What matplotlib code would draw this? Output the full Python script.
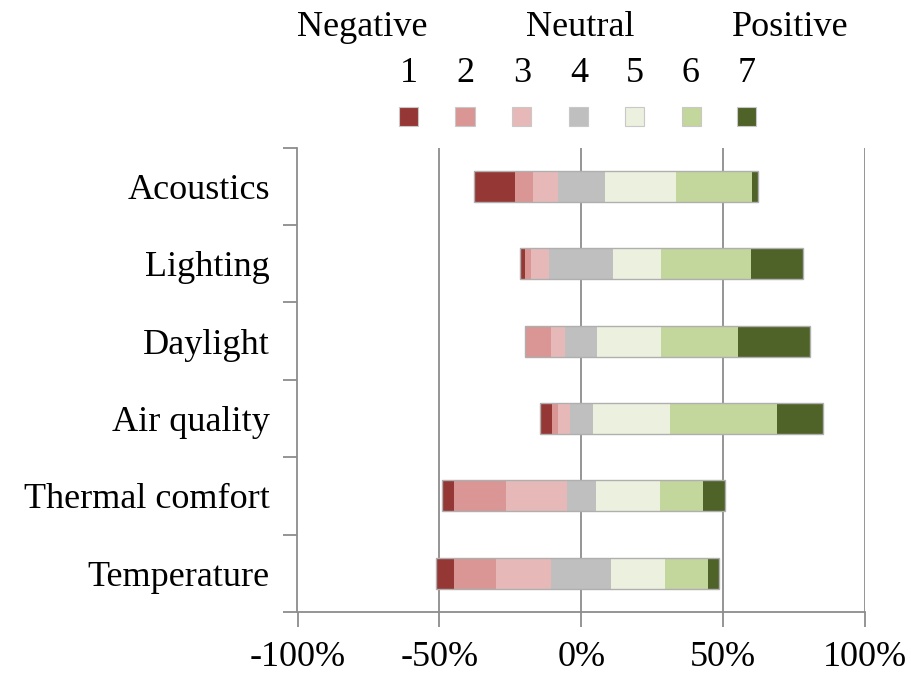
import matplotlib
matplotlib.use("Agg")
import matplotlib.pyplot as plt
from matplotlib.patches import Rectangle
import numpy as np

plt.rcParams['font.family'] = ['Liberation Serif', 'DejaVu Serif']

categories = ["Acoustics", "Lighting", "Daylight", "Air quality",
              "Thermal comfort", "Temperature"]
levels = ["1", "2", "3", "4", "5", "6", "7"]

# Share of responses (%) per rating level 1..7
r1 = [14.3, 1.8, 0.0, 4.1, 4.1, 6.3]
r2 = [6.4, 2.3, 9.0, 2.2, 18.4, 14.9]
r3 = [8.7, 6.3, 5.0, 4.1, 21.4, 19.5]
r4 = [16.5, 22.6, 11.4, 8.1, 10.3, 21.2]
r5 = [25.1, 16.8, 22.5, 27.1, 22.7, 19.0]
r6 = [27.0, 31.6, 27.2, 37.7, 14.9, 15.0]
r7 = [1.8, 18.6, 25.3, 16.4, 8.0, 4.1]

colors = ["#953735", "#D99694", "#E6B9B8", "#BFBFBF",
          "#EBF1DE", "#C3D69B", "#4F6228"]
grey = "#8C8C8C"

fig = plt.figure(figsize=(9.12, 6.73), dpi=100)
W, H = 912, 673
ax = fig.add_axes([297.5 / W, 1 - 612 / H, (865 - 297.5) / W, (612 - 147.5) / H])

data = np.array([r1, r2, r3, r4, r5, r6, r7])
n = len(categories)
ypos = np.arange(n)
bar_h = 0.4

# Neutral block centred on zero
start = -(data[0] + data[1] + data[2] + data[3] / 2.0)
left = start.copy()
for k in range(7):
    ax.barh(ypos, data[k], left=left, height=bar_h, color=colors[k],
            edgecolor='none', zorder=3)
    left = left + data[k]
for i in range(n):
    ax.add_patch(Rectangle((start[i], ypos[i] - bar_h / 2), data[:, i].sum(), bar_h,
                           fill=False, edgecolor="#AFAFAF", linewidth=1.0, zorder=4))

ax.set_xlim(-100, 100)
ax.set_ylim(n - 0.5, -0.5)
ax.set_xticks([-100, -50, 0, 50, 100])
ax.set_xticklabels(["-100%", "-50%", "0%", "50%", "100%"], fontsize=26)
ax.set_yticks(ypos)
ax.set_yticklabels(categories, fontsize=26)
ax.set_yticks(np.arange(n + 1) - 0.5, minor=True)
ax.tick_params(axis='y', which='major', length=0, pad=20)
ax.tick_params(axis='y', which='minor', length=10, width=1.3, color=grey)
ax.tick_params(axis='x', length=11, width=1.3, color=grey, pad=10)

for x in [-50, 0, 50, 100]:
    ax.axvline(x, color=grey, linewidth=1.3, zorder=1)

for s in ['top', 'right']:
    ax.spines[s].set_visible(False)
for s in ['left', 'bottom']:
    ax.spines[s].set_color(grey)
    ax.spines[s].set_linewidth(1.3)

# Legend header and colour keys
for label, xc in [("Negative", 362), ("Neutral", 580), ("Positive", 790)]:
    fig.text(xc / W, 1 - 27 / H, label, fontsize=26, ha='center', va='center')
key_x = [409, 465, 522, 579, 635, 691, 747]
sq = 19
for lab, xc, col in zip(levels, key_x, colors):
    fig.text(xc / W, 1 - 74 / H, lab, fontsize=26, ha='center', va='center')
    fig.patches.append(Rectangle(((xc - sq / 2) / W, 1 - (116 + sq / 2) / H),
                                 sq / W, sq / H, transform=fig.transFigure,
                                 facecolor=col, edgecolor="#C8C8C8", linewidth=0.8))

fig.savefig("out.png", dpi=100)
